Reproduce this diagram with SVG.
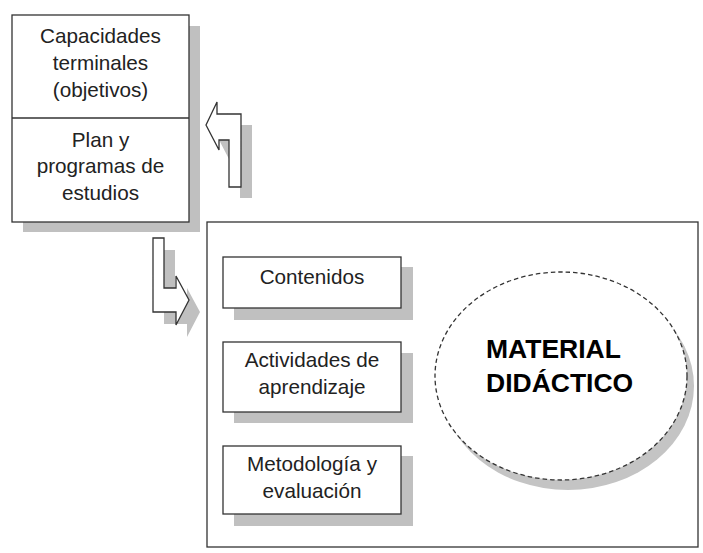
<svg xmlns="http://www.w3.org/2000/svg" width="703" height="553" viewBox="0 0 703 553">
<style>
.box{fill:#fff;stroke:#333;stroke-width:1.3}
.sh{fill:#c0c0c0}
.t{font-family:"Liberation Sans",Arial,sans-serif;font-size:20.7px;fill:#222;text-anchor:middle}
.b{font-family:"Liberation Sans",Arial,sans-serif;font-size:26.5px;font-weight:bold;fill:#000}
</style>
<rect width="703" height="553" fill="#fff"/>
<g id="connectors">
  <polygon class="sh" points="217,136 228,113 228,125 252,125 252,198 240,198 240,151 230,151 230,161"/>
  <polygon class="box" points="206,125 217,102 217,114 241,114 241,187 229,187 229,140 219,140 219,150"/>
  <polygon class="sh" points="164,250 175,250 175,300 187,300 187,288 200,312 187,337 187,324 164,324"/>
  <polygon class="box" points="153,238 164,238 164,288 176,288 176,276 189,300 176,325 176,312 153,312"/>
</g>
<g id="node-left">
  <rect class="sh" x="23" y="26" width="177" height="206"/>
  <rect class="box" x="12" y="15" width="177" height="207"/>
  <line x1="12" y1="118" x2="189" y2="118" stroke="#333" stroke-width="1.3"/>
  <text class="t" x="100.5" y="43">Capacidades</text>
  <text class="t" x="100.5" y="70">terminales</text>
  <text class="t" x="100.5" y="97">(objetivos)</text>
  <text class="t" x="100.5" y="147">Plan y</text>
  <text class="t" x="100.5" y="173">programas de</text>
  <text class="t" x="100.5" y="200">estudios</text>
</g>
<g id="node-container">
  <rect class="box" x="207" y="222" width="491" height="325"/>
</g>
<g id="node-contenidos">
  <rect class="sh" x="234" y="267" width="179" height="53"/>
  <rect class="box" x="223" y="257" width="178" height="51"/>
  <text class="t" x="312" y="284">Contenidos</text>
</g>
<g id="node-actividades">
  <rect class="sh" x="234" y="353" width="179" height="70"/>
  <rect class="box" x="223" y="342" width="178" height="70"/>
  <text class="t" x="312" y="367">Actividades de</text>
  <text class="t" x="312" y="394">aprendizaje</text>
</g>
<g id="node-metodologia">
  <rect class="sh" x="234" y="456" width="179" height="70"/>
  <rect class="box" x="223" y="446" width="178" height="68"/>
  <text class="t" x="312" y="471">Metodología y</text>
  <text class="t" x="312" y="498">evaluación</text>
</g>
<g id="node-material">
  <ellipse cx="568" cy="386" rx="126" ry="104" fill="#c4c4c4"/>
  <ellipse cx="561" cy="376" rx="126" ry="104" fill="#fff" stroke="#333" stroke-width="1.3" stroke-dasharray="4.5,3"/>
  <text class="b" x="486" y="358">MATERIAL</text>
  <text class="b" x="486" y="392">DIDÁCTICO</text>
</g>
</svg>
